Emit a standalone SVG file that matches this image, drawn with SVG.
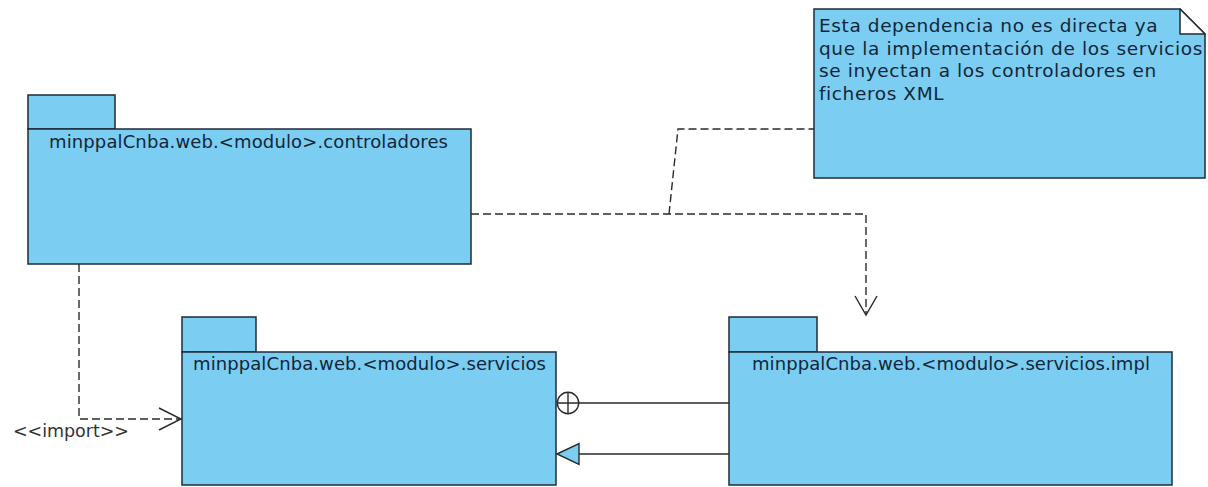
<svg xmlns="http://www.w3.org/2000/svg" width="1208" height="487" viewBox="0 0 1208 487">
  <style>
    .pkg { fill: #7bcdf1; stroke: #1c2b3a; stroke-width: 1.5; }
    .lbl { font-family: "DejaVu Sans", "Liberation Sans", sans-serif; font-size: 18px; fill: #13263a; }
    .note-txt { font-family: "DejaVu Sans", "Liberation Sans", sans-serif; font-size: 18.5px; fill: #13263a; letter-spacing: 0.6px; }
    .dash { fill: none; stroke: #2a2a2a; stroke-width: 1.4; stroke-dasharray: 8 4; }
    .solid { fill: none; stroke: #2a2a2a; stroke-width: 1.4; }
    .stereo { font-family: "DejaVu Sans", "Liberation Sans", sans-serif; font-size: 17.5px; fill: #333333; }
  </style>
  <rect width="1208" height="487" fill="#ffffff"/>

  <!-- package: controladores -->
  <g id="pkg-controladores">
    <rect class="pkg" x="28" y="95" width="87" height="34"/>
    <rect class="pkg" x="28" y="129" width="443" height="135"/>
    <text class="lbl" x="49" y="147.5" textLength="399" lengthAdjust="spacing">minppalCnba.web.&lt;modulo&gt;.controladores</text>
  </g>

  <!-- package: servicios -->
  <g id="pkg-servicios">
    <rect class="pkg" x="182" y="317" width="74" height="35"/>
    <rect class="pkg" x="182" y="352" width="374" height="133"/>
    <text class="lbl" x="193" y="370" textLength="353" lengthAdjust="spacing">minppalCnba.web.&lt;modulo&gt;.servicios</text>
  </g>

  <!-- package: servicios.impl -->
  <g id="pkg-servicios-impl">
    <rect class="pkg" x="729" y="317" width="88" height="35"/>
    <rect class="pkg" x="729" y="352" width="443" height="133"/>
    <text class="lbl" x="752" y="370" textLength="398" lengthAdjust="spacing">minppalCnba.web.&lt;modulo&gt;.servicios.impl</text>
  </g>

  <!-- comment note -->
  <g id="note">
    <path class="pkg" d="M814,9 H1180 L1205,34 V178 H814 Z"/>
    <path d="M1180,9 V34 H1205 Z" fill="#ffffff" stroke="#1c2b3a" stroke-width="1.5" stroke-linejoin="round"/>
    <text class="note-txt" x="819" y="32">Esta dependencia no es directa ya</text>
    <text class="note-txt" x="819" y="54.5" textLength="384" lengthAdjust="spacing">que la implementación de los servicios</text>
    <text class="note-txt" x="819" y="77">se inyectan a los controladores en</text>
    <text class="note-txt" x="819" y="99.5">ficheros XML</text>
  </g>

  <!-- connectors -->
  <g id="connectors">
    <!-- import dependency: controladores -> servicios -->
    <path class="dash" d="M79,264 V419 H181"/>
    <path class="solid" d="M159,408 L181,419 L159,430"/>
    <text class="stereo" x="13" y="437" textLength="116" lengthAdjust="spacing">&lt;&lt;import&gt;&gt;</text>

    <!-- dependency: controladores -> servicios.impl -->
    <path class="dash" d="M471,214 H866 V315"/>
    <path class="solid" d="M855,296 L866,315 L877,296"/>

    <!-- note anchor -->
    <path class="dash" d="M669,214 L678,129 H814"/>

    <!-- nesting: servicios.impl inside servicios -->
    <line class="solid" x1="729" y1="403" x2="579" y2="403"/>
    <circle cx="568" cy="403" r="10.7" fill="#ffffff" stroke="#2a2a2a" stroke-width="1.4"/>
    <path class="solid" d="M557.3,403 H578.7 M568,392.3 V413.7"/>

    <!-- realization: servicios.impl -> servicios -->
    <line class="solid" x1="729" y1="454" x2="579" y2="454"/>
    <path d="M557,454 L579,443.5 L579,464.5 Z" fill="#7bcdf1" stroke="#2a2a2a" stroke-width="1.4"/>
  </g>
</svg>
